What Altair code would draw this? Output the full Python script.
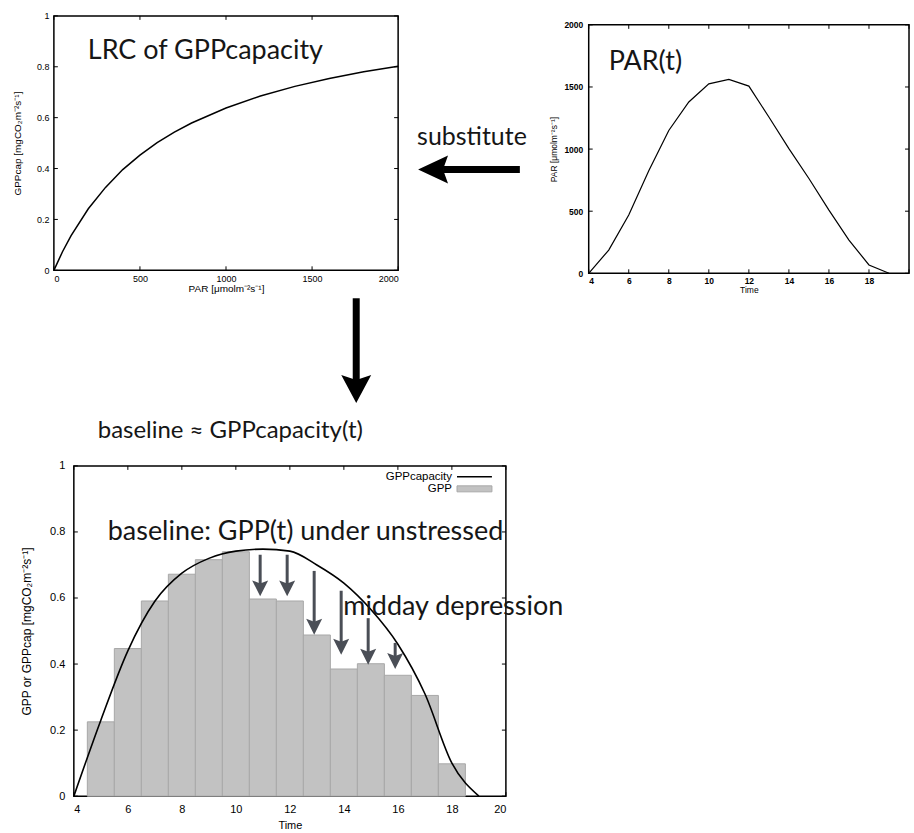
import altair as alt
import pandas as pd

LABEL_FONT = "Liberation Sans"
ANNOT_FONT = "Lato"
ANNOT_COLOR = "#161616"
ARROW_GRAY = "#4a4e56"

# ---------------- data ----------------
# light response curve (top-left)
lrc_par = [0, 50, 100, 200, 300, 400, 500, 600, 700, 800, 1000, 1200, 1400, 1600, 1800, 2000]
lrc_gpp = [0, 0.073, 0.136, 0.242, 0.326, 0.396, 0.453, 0.502, 0.543, 0.579, 0.638,
           0.685, 0.723, 0.754, 0.780, 0.802]

# PAR(t) (top-right)
par_time = [4, 5, 6, 7, 8, 9, 10, 11, 12, 13, 14, 15, 16, 17, 18, 19]
par_value = [0, 187, 470, 825, 1150, 1379, 1525, 1561, 1507, 1258, 1004, 763, 509, 268, 67, 0]

# GPPcapacity(t) and GPP bars (bottom)
cap_time = [4, 5, 6, 7, 8, 9, 10, 11, 12, 13, 14, 15, 16, 17, 18, 19]
cap_value = [0, 0.23, 0.44, 0.59, 0.675, 0.72, 0.742, 0.748, 0.742, 0.70, 0.645,
             0.565, 0.46, 0.31, 0.10, 0]
gpp_time = [5, 6, 7, 8, 9, 10, 11, 12, 13, 14, 15, 16, 17, 18]
gpp_value = [0.225, 0.447, 0.591, 0.672, 0.716, 0.740, 0.597, 0.591, 0.488, 0.385,
             0.401, 0.366, 0.305, 0.098]

# depression arrows (bottom)
arrow_time = [10.9, 11.9, 12.9, 13.9, 14.9, 15.9]
arrow_from = [0.731, 0.731, 0.682, 0.622, 0.539, 0.464]
arrow_to = [0.605, 0.605, 0.489, 0.428, 0.398, 0.385]

# tick values
lrc_xticks = [0, 500, 1000, 1500, 2000]
lrc_yticks = [0, 0.2, 0.4, 0.6, 0.8, 1]
par_xticks = [4, 6, 8, 10, 12, 14, 16, 18, 20]
par_xlabels = [4, 6, 8, 10, 12, 14, 16, 18]
par_yticks = [0, 500, 1000, 1500, 2000]
gpp_xticks = [4, 6, 8, 10, 12, 14, 16, 18, 20]
gpp_yticks = [0, 0.2, 0.4, 0.6, 0.8, 1]

# texts
annot_text = ["LRC of GPPcapacity", "PAR(t)", "substitute", "baseline \u2248 GPPcapacity(t)",
              "baseline: GPP(t) under unstressed", "midday depression"]
legend_labels = ["GPPcapacity", "GPP"]
titles = {
    "par": "PAR [\u03bcmolm\u207b\u00b2s\u207b\u00b9]",
    "gppcap": "GPPcap [mgCO\u2082m\u207b\u00b2s\u207b\u00b9]",
    "time": "Time",
    "gpp": "GPP or GPPcap [mgCO\u2082m\u207b\u00b2s\u207b\u00b9]",
}

# ---------------- sizes ----------------
TL_W, TL_H = 345, 255
TR_W, TR_H = 321, 249
B_W, B_H = 433, 331


def axis(values, fmt, title, size, tsize, lpad, tpad, bold=False):
    return alt.Axis(values=values, format=fmt, title=title, ticks=False, domain=False,
                    grid=False, labelFont=LABEL_FONT, labelFontSize=size,
                    labelFontWeight="bold" if bold else "normal",
                    labelColor="black", titleColor="black", titleFont=LABEL_FONT,
                    titleFontSize=tsize, titleFontWeight="normal",
                    labelPadding=lpad, titlePadding=tpad)


def tick_layers(xvals, yvals, xscale, yscale, xaxis, yaxis, w, h, tl=4):
    xdf = pd.DataFrame({"tv": xvals})
    ydf = pd.DataFrame({"tv": yvals})
    bx = alt.Chart(xdf).mark_rule(color="black", strokeWidth=1).encode(
        x=alt.X("tv:Q", scale=xscale, axis=xaxis), y=alt.value(h), y2=alt.value(h - tl))
    tx = alt.Chart(xdf).mark_rule(color="black", strokeWidth=1).encode(
        x=alt.X("tv:Q", scale=xscale, axis=xaxis), y=alt.value(0), y2=alt.value(tl))
    ly = alt.Chart(ydf).mark_rule(color="black", strokeWidth=1).encode(
        y=alt.Y("tv:Q", scale=yscale, axis=yaxis), x=alt.value(0), x2=alt.value(tl))
    ry = alt.Chart(ydf).mark_rule(color="black", strokeWidth=1).encode(
        y=alt.Y("tv:Q", scale=yscale, axis=yaxis), x=alt.value(w), x2=alt.value(w - tl))
    return [bx, tx, ly, ry]


def label_layer(text, x, y, size, align="left"):
    return alt.Chart(pd.DataFrame({"label": [text]})).mark_text(
        font=ANNOT_FONT, fontSize=size, color=ANNOT_COLOR, align=align,
        baseline="alphabetic").encode(text="label:N", x=alt.value(x), y=alt.value(y))


one = pd.DataFrame({"a": [0]})


def spacer(w, h):
    return alt.Chart(one).mark_point(opacity=0).encode(
        x=alt.value(0), y=alt.value(0)).properties(
        width=w, height=h, view=alt.ViewBackground(strokeOpacity=0))


# ---------------- top-left: LRC ----------------
lrc_x = alt.Scale(domain=[0, 2000], nice=False, zero=False)
lrc_y = alt.Scale(domain=[0, 1], nice=False)
lrc_xaxis = axis(lrc_xticks, "d", titles["par"], 9, 10, 4, 0)
lrc_yaxis = axis(lrc_yticks, "~g", titles["gppcap"], 9, 10, 5, 14)
lrc_df = pd.DataFrame({"par": lrc_par, "gpp": lrc_gpp})
lrc_line = alt.Chart(lrc_df).mark_line(color="black", strokeWidth=1.5).encode(
    x=alt.X("par:Q", scale=lrc_x, axis=lrc_xaxis),
    y=alt.Y("gpp:Q", scale=lrc_y, axis=lrc_yaxis),
)
anchor_tl = alt.Chart(one).mark_rule(strokeOpacity=0).encode(
    x=alt.value(-53), x2=alt.value(-52), y=alt.value(-14), y2=alt.value(-13))
top_left = alt.layer(
    *tick_layers(lrc_xticks, lrc_yticks, lrc_x, lrc_y, lrc_xaxis, lrc_yaxis, TL_W, TL_H),
    lrc_line,
    label_layer(annot_text[0], 34, 43, 27),
    anchor_tl,
).properties(width=TL_W, height=TL_H)

# ---------------- top-right: PAR(t) ----------------
par_x = alt.Scale(domain=[4, 20], nice=False, zero=False)
par_y = alt.Scale(domain=[0, 2000], nice=False)
par_xaxis = axis(par_xlabels, "d", titles["time"], 8.5, 8.5, 3, 1, bold=True)
par_yaxis = axis(par_yticks, "d", titles["par"], 8.5, 8.5, 6, 5, bold=True)
par_df = pd.DataFrame({"time": par_time, "par": par_value})
par_line = alt.Chart(par_df).mark_line(color="black", strokeWidth=1.2).encode(
    x=alt.X("time:Q", scale=par_x, axis=par_xaxis),
    y=alt.Y("par:Q", scale=par_y, axis=par_yaxis),
)
# left "substitute" arrow (pixel positions relative to this panel)
sub_shaft = alt.Chart(one).mark_rule(color="black", strokeWidth=7).encode(
    x=alt.value(-69), x2=alt.value(-146), y=alt.value(145), y2=alt.value(145))
sub_head = alt.Chart(one).mark_point(
    shape="M0,0 L30,-14 L25,0 L30,14 Z", size=4, filled=True, color="black",
    opacity=1, strokeWidth=0).encode(x=alt.value(-171), y=alt.value(145))
top_right = alt.layer(
    *tick_layers(par_xticks, par_yticks, par_x, par_y, par_xaxis, par_yaxis, TR_W, TR_H),
    par_line,
    label_layer(annot_text[1], 20, 45, 27),
    label_layer(annot_text[2], -117, 120, 25, align="center"),
    sub_shaft, sub_head,
).properties(width=TR_W, height=TR_H)

# ---------------- bottom: GPP ----------------
b_x = alt.Scale(domain=[4, 20], nice=False, zero=False)
b_y = alt.Scale(domain=[0, 1], nice=False)
b_xaxis = axis(gpp_xticks, "d", titles["time"], 11, 11, 7, 5)
b_yaxis = axis(gpp_yticks, "~g", titles["gpp"], 11, 12, 9, 16)
gpp_df = pd.DataFrame({"time": gpp_time, "gpp": gpp_value})
bars = alt.Chart(gpp_df).mark_rect(color="#c2c2c2", stroke="#a8a8a8", strokeWidth=1).transform_calculate(
    t0="datum.time - 0.5", t1="datum.time + 0.5").encode(
    x=alt.X("t0:Q", scale=b_x, axis=b_xaxis),
    x2="t1:Q",
    y=alt.Y("gpp:Q", scale=b_y, axis=b_yaxis),
    y2=alt.datum(0),
)
cap_df = pd.DataFrame({"time": cap_time, "cap": cap_value})
cap_line = alt.Chart(cap_df).mark_line(color="black", strokeWidth=1.6, interpolate="monotone").encode(
    x=alt.X("time:Q", scale=b_x, axis=b_xaxis), y=alt.Y("cap:Q", scale=b_y, axis=b_yaxis))

arr_df = pd.DataFrame({"time": arrow_time, "y0": arrow_from, "y1": arrow_to})
arr_shaft = alt.Chart(arr_df).mark_rule(color=ARROW_GRAY, strokeWidth=3).transform_calculate(
    ye="datum.y1 + 0.035").encode(
    x=alt.X("time:Q", scale=b_x, axis=b_xaxis),
    y=alt.Y("y0:Q", scale=b_y, axis=b_yaxis), y2="ye:Q")
arr_head = alt.Chart(arr_df).mark_point(
    shape="M0,0 L-8,-16 L0,-13 L8,-16 Z", size=4, filled=True, color=ARROW_GRAY,
    opacity=1, strokeWidth=0).encode(
    x=alt.X("time:Q", scale=b_x, axis=b_xaxis), y=alt.Y("y1:Q", scale=b_y, axis=b_yaxis))

# legend (drawn by hand, gnuplot style)
leg_text1 = alt.Chart(pd.DataFrame({"label": [legend_labels[0]]})).mark_text(
    font=LABEL_FONT, fontSize=11.5, color="black", align="right", baseline="middle").encode(
    text="label:N", x=alt.value(379), y=alt.value(11))
leg_text2 = alt.Chart(pd.DataFrame({"label": [legend_labels[1]]})).mark_text(
    font=LABEL_FONT, fontSize=11.5, color="black", align="right", baseline="middle").encode(
    text="label:N", x=alt.value(379), y=alt.value(23))
leg_line = alt.Chart(one).mark_rule(color="black", strokeWidth=1.5).encode(
    x=alt.value(384), x2=alt.value(419), y=alt.value(11), y2=alt.value(11))
leg_box = alt.Chart(one).mark_rect(color="#c2c2c2", stroke="#a8a8a8", strokeWidth=1).encode(
    x=alt.value(384), x2=alt.value(419), y=alt.value(20), y2=alt.value(26))

# big down arrow + its caption (pixel positions relative to this panel)
down_shaft = alt.Chart(one).mark_rule(color="black", strokeWidth=7).encode(
    x=alt.value(283), x2=alt.value(283), y=alt.value(-168), y2=alt.value(-86))
down_head = alt.Chart(one).mark_point(
    shape="M0,0 L-15,-28 L0,-23 L15,-28 Z", size=4, filled=True, color="black",
    opacity=1, strokeWidth=0).encode(x=alt.value(283), y=alt.value(-63))
anchor_br = alt.Chart(one).mark_rule(strokeOpacity=0).encode(
    x=alt.value(840), x2=alt.value(841), y=alt.value(366), y2=alt.value(367))

bottom = alt.layer(
    *tick_layers(gpp_xticks, gpp_yticks, b_x, b_y, b_xaxis, b_yaxis, B_W, B_H),
    bars, cap_line, arr_shaft, arr_head,
    leg_text1, leg_text2, leg_line, leg_box,
    label_layer(annot_text[4], 34, 74, 27),
    label_layer(annot_text[5], 270, 149, 27),
    down_shaft, down_head,
    label_layer(annot_text[3], 24, -28, 24),
    anchor_br,
).properties(width=B_W, height=B_H)

# ---------------- layout ----------------
top_right_col = alt.vconcat(spacer(1, 1), top_right, spacing=8, bounds="flush")
top_row = alt.hconcat(top_left, top_right_col, spacing=191, bounds="flush")
bottom_row = alt.hconcat(spacer(1, 1), bottom, spacing=19, bounds="flush")

chart = alt.vconcat(top_row, bottom_row, spacing=451, bounds="flush").properties(
    padding=0, background="white"
).configure_view(stroke="black", strokeWidth=1.5)

chart.save("out.html", embed_options={"renderer": "svg", "actions": False})
